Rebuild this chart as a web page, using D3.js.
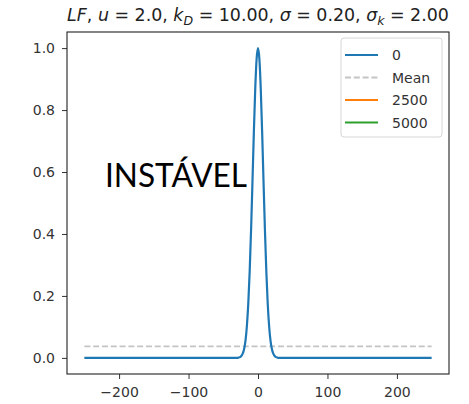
<!DOCTYPE html>
<html>
<head>
<meta charset="utf-8">
<script src="https://cdn.jsdelivr.net/npm/d3@7"></script>
<style>
  html, body { margin: 0; padding: 0; background: #fff; }
  svg { display: block; }
</style>
</head>
<body>
<svg id="chart" width="469" height="404"></svg>
<script>
// ---- data ----
const xValues = [-250, -200, -150, -100, -50, -40, -30, -28, -26, -24, -22, -20, -18, -16, -14, -12, -10, -8, -6, -4, -2, 0,
                 2, 4, 6, 8, 10, 12, 14, 16, 18, 20, 22, 24, 26, 28, 30, 40, 50, 100, 150, 200, 250];
const series0 = [0, 0, 0, 0, 0, 0, 0.0003, 0.001, 0.0025, 0.006, 0.0135, 0.029, 0.056, 0.103, 0.175, 0.278, 0.411, 0.566, 0.726, 0.867, 0.965, 1.0,
                 0.965, 0.867, 0.726, 0.566, 0.411, 0.278, 0.175, 0.103, 0.056, 0.029, 0.0135, 0.006, 0.0025, 0.001, 0.0003, 0, 0, 0, 0, 0, 0];
const meanValue = 0.037;
const series2500 = [];   // unstable: no values drawn
const series5000 = [];   // unstable: no values drawn
const legendLabels = ["0", "Mean", "2500", "5000"];
const xTicks = [-200, -100, 0, 100, 200];
const yTicks = [0.0, 0.2, 0.4, 0.6, 0.8, 1.0];
const overlayText = "INSTÁVEL";

// ---- layout ----
const svg = d3.select("#chart");
const L = 67, R = 449, T = 32, B = 374;
const x = d3.scaleLinear().domain([-275, 275]).range([L, R]);
const y = d3.scaleLinear().domain([-0.052, 1.052]).range([B, T]);
const colors = {"0": "#1f77b4", "Mean": "#c4c4c4", "2500": "#ff7f0e", "5000": "#2ca02c"};
const tickFont = "DejaVu Sans, sans-serif";

// axes
const xAxis = svg.append("g").attr("transform", `translate(0,${B})`)
  .call(d3.axisBottom(x).tickValues(xTicks).tickSize(5).tickPadding(8)
    .tickFormat(d => d3.format("d")(d).replace("-", "\u2212")));
const yAxis = svg.append("g").attr("transform", `translate(${L},0)`)
  .call(d3.axisLeft(y).tickValues(yTicks).tickSize(5).tickPadding(7).tickFormat(d3.format(".1f")));
[xAxis, yAxis].forEach(a => {
  a.select(".domain").remove();
  a.selectAll("line").attr("stroke", "#333").attr("stroke-width", 1);
  a.selectAll("text").attr("fill", "#333").style("font-family", tickFont).style("font-size", "14px");
});

// mean line
svg.append("line")
  .attr("x1", x(-250)).attr("x2", x(250))
  .attr("y1", y(meanValue)).attr("y2", y(meanValue))
  .attr("stroke", colors["Mean"]).attr("stroke-width", 1.8)
  .attr("stroke-dasharray", "6,2.8");

// series lines
const line = d3.line().x(d => x(d[0])).y(d => y(d[1])).curve(d3.curveMonotoneX);
const pts0 = xValues.map((v, i) => [v, series0[i]]);
svg.append("path").datum(pts0)
  .attr("d", line).attr("fill", "none")
  .attr("stroke", colors["0"]).attr("stroke-width", 2.2).attr("stroke-linejoin", "round");
[[series2500, "2500"], [series5000, "5000"]].forEach(([s, k]) => {
  if (s.length) {
    svg.append("path").datum(xValues.map((v, i) => [v, s[i]]))
      .attr("d", line).attr("fill", "none").attr("stroke", colors[k]).attr("stroke-width", 2.2);
  }
});

// frame
svg.append("rect").attr("x", L).attr("y", T).attr("width", R - L).attr("height", B - T)
  .attr("fill", "none").attr("stroke", "#222").attr("stroke-width", 1.1);

// legend
const lg = svg.append("g");
lg.append("rect").attr("x", 341).attr("y", 38).attr("width", 101).attr("height", 99)
  .attr("rx", 3).attr("fill", "#fff").attr("fill-opacity", 0.8)
  .attr("stroke", "#d6d6d6").attr("stroke-width", 1);
legendLabels.forEach((lab, i) => {
  const cy = 55 + i * 22.5;
  lg.append("line").attr("x1", 345).attr("x2", 378).attr("y1", cy).attr("y2", cy)
    .attr("stroke", colors[lab]).attr("stroke-width", lab === "Mean" ? 1.8 : 2.2)
    .attr("stroke-dasharray", lab === "Mean" ? "6,2.8" : null);
  lg.append("text").attr("x", 392).attr("y", cy).attr("dy", "0.36em")
    .attr("fill", "#333").style("font-family", tickFont).style("font-size", "14px").text(lab);
});

// title (mathtext-like)
const title = svg.append("text").attr("x", (L + R) / 2).attr("y", 21)
  .attr("text-anchor", "middle").attr("fill", "#222")
  .style("font-family", tickFont).style("font-size", "16px");
const parts = [
  ["LF", "i"], [", ", "n"], ["u", "i"], [" = 2.0, ", "n"], ["k", "i"], ["D", "s"],
  [" = 10.00, ", "n"], ["σ", "i"], [" = 0.20, ", "n"], ["σ", "i"], ["k", "s"], [" = 2.00", "n"]
];
parts.forEach(([t, k]) => {
  const ts = title.append("tspan").text(t);
  if (k === "i" || k === "s") ts.style("font-style", "italic");
  if (k === "s") ts.style("font-size", "11.5px").attr("dy", "4");
  else ts.attr("dy", k === "n" || k === "i" ? (ts.node().previousSibling && ts.node().previousSibling.__sub ? "-4" : "0") : "0");
  ts.node().__sub = (k === "s");
});
const tw = title.node().getComputedTextLength();
const scale = 382 / tw;
title.style("font-size", (16 * scale) + "px");
title.selectAll("tspan").filter(function () { return this.__sub; }).style("font-size", (11.5 * scale) + "px");

// overlay text
svg.append("text").attr("x", 105).attr("y", 187)
  .attr("fill", "#000").style("font-family", "Lato, 'Open Sans', sans-serif").style("font-size", "33px")
  .attr("textLength", 142).attr("lengthAdjust", "spacingAndGlyphs")
  .text(overlayText);
</script>
</body>
</html>
